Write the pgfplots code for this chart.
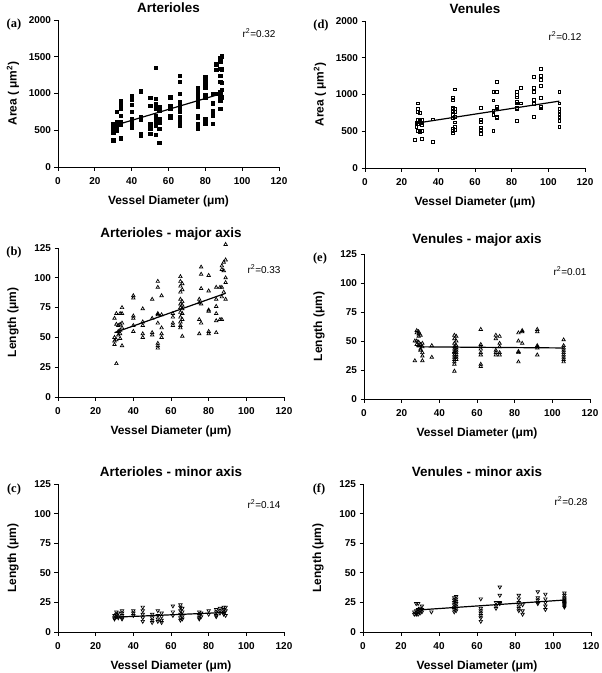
\documentclass[border=0pt]{standalone}
\usepackage{fontspec}
\setmainfont{Liberation Sans}
\newfontfamily\panelfont{Liberation Serif}
\usepackage{pgfplots}
\pgfplotsset{compat=1.18}

\pgfplotsset{
  panel/.style={
    scale only axis,
    axis lines=left,
    axis line style={-, line width=0.8bp},
    xmin=0, xmax=120, xtick={0,20,...,120},
    tick align=outside,
    major tick length=3.5bp,
    tick style={line width=0.8bp, black},
    scaled ticks=false,
    /pgf/number format/1000 sep={},
    /pgf/number format/assume math mode=true,
    ticklabel style={font=\bfseries\fontsize{10}{11}\selectfont},
    xticklabel style={yshift=-3.5bp},
    xlabel style={font=\bfseries\fontsize{12}{13}\selectfont,
      at={([yshift=-34bp]rel axis cs:0.5,0)}, anchor=center},
    ylabel style={font=\bfseries\fontsize{12}{13}\selectfont,
      at={([xshift=-45bp]rel axis cs:0,0.5)}, anchor=center},
    title style={font=\bfseries\fontsize{13.5}{15}\selectfont, yshift=-2bp},
    xlabel={Vessel Diameter (μm)},
    clip=false,
  },
  fit/.style={black, line width=1.2bp},
  sq/.style={only marks, mark=square*, mark size=1.7bp, mark options={black, fill=black}},
  osq/.style={only marks, mark=square, mark size=1.4bp, mark options={black, line width=0.8bp}},
  tri/.style={only marks, mark=triangle, mark size=2bp, mark options={black, line width=0.7bp}},
  dtri/.style={only marks, mark=triangle, mark size=2bp, mark options={black, line width=0.7bp, rotate=180}},
}

\newcommand{\plabel}[1]{\node[font=\panelfont\bfseries\fontsize{12.5}{14}\selectfont] at (rel axis cs:0,1) [xshift=-44bp, yshift=-5bp] {#1};}
\newcommand{\rsq}[2]{\node[anchor=east, font=\fontsize{10}{11}\selectfont] at (rel axis cs:1,1) [yshift=-#2] {r\textsuperscript{2}=#1};}

\begin{document}
\begin{tikzpicture}
\useasboundingbox (0,0) rectangle (602bp,-673bp);

% (a) Arterioles - area
\begin{axis}[panel, at={(58bp,-167bp)}, anchor=south west, width=221bp, height=147bp,
  ymin=0, ymax=2000, ytick={0,500,...,2000},
  title={Arterioles}, ylabel={Area ( μm\textsuperscript{2})}]
\addplot[sq] coordinates {
(30,360)(30,370)(30,470)(30,550)(30,520)(30,580)
(32,750)(32,600)(32,560)(32,500)(32,540)(32,590)(32,610)
(34,900)(34,850)(34,800)(34,700)(34,620)(34,580)(34,400)(34,390)
(40,970)(40,920)(40,850)(40,750)(40,650)(40,630)(40,600)(40,540)
(45,1030)(45,680)(45,650)(45,450)(45,430)
(50,940)(50,830)(50,580)(50,520)(50,450)
(53,1350)(53,930)(53,860)(53,800)(53,700)(53,640)(53,600)(53,560)(53,440)
(55,820)(55,770)(55,650)(55,600)(55,520)(55,330)
(61,960)(61,950)(61,830)(61,800)(61,700)(61,680)
(66,1240)(66,1160)(66,1000)(66,880)(66,860)(66,800)(66,780)(66,750)(66,680)(66,650)(66,620)(66,600)(66,580)(66,560)
(76,1070)(76,1040)(76,1000)(76,960)(76,900)(76,870)(76,820)(76,700)(76,680)(76,590)(76,570)(76,530)
(80,1230)(80,1180)(80,1140)(80,1080)(80,980)(80,940)(80,650)(80,590)
(84,1000)(84,870)(84,760)(84,720)(84,700)(84,590)
(86,1400)(86,1320)(86,1000)
(88,1480)(88,1430)(88,1340)(88,1240)(88,1160)(88,1020)(88,960)(88,900)(88,790)
(89,1510)(89,1330)(89,1150)(89,1050)(89,950)
};
\addplot[fit] coordinates {(30,560) (89,1000)};
\plabel{(a)}
\rsq{0.32}{13bp}
\end{axis}

% (d) Venules - area
\begin{axis}[panel, at={(365bp,-168bp)}, anchor=south west, width=220bp, height=147bp,
  ymin=0, ymax=2000, ytick={0,500,...,2000},
  title={Venules}, ylabel={Area ( μm\textsuperscript{2})}]
\addplot[osq] coordinates {
(27,380)
(28,600)(28,620)(28,560)
(29,880)(29,800)(29,760)(29,650)(29,600)(29,510)
(30,750)(30,640)(30,620)(30,500)(30,490)
(31,650)(31,620)(31,580)(31,500)(31,400)
(37,660)(37,360)
(48,950)(48,930)(48,820)(48,800)(48,780)(48,760)(48,720)(48,680)(48,540)(48,500)(48,480)
(49,1070)(49,800)(49,760)(49,700)(49,620)(49,560)(49,520)
(63,820)(63,660)(63,620)(63,550)(63,520)(63,460)
(70,1030)(70,920)(70,780)(70,720)(70,510)
(72,1170)(72,1030)(72,830)(72,810)(72,700)(72,680)
(83,1030)(83,1000)(83,960)(83,900)(83,880)(83,820)(83,800)(83,640)
(85,1090)(85,880)
(92,1240)(92,1090)(92,1040)(92,930)(92,870)(92,700)
(96,1350)(96,1250)(96,1200)(96,1120)(96,950)(96,830)(96,810)
(106,1030)(106,880)(106,800)(106,770)(106,730)(106,700)(106,680)(106,640)(106,560)
};
\addplot[fit] coordinates {(28,610) (106,910)};
\plabel{(d)}
\rsq{0.12}{15bp}
\end{axis}

% (b) Arterioles - major axis
\begin{axis}[panel, at={(58bp,-397bp)}, anchor=south west, width=226bp, height=149bp,
  ymin=0, ymax=125, ytick={0,25,...,125},
  title={Arterioles - major axis}, ylabel={Length (μm)}]
\addplot[tri] coordinates {
(30,66)(30,50)(30,47)(30,44)
(31,70)(31,61)(31,48)(31,28)
(32,60)(32,55)(32,52)
(33,70)(33,61)(33,56)(33,53)(33,49)
(34,75)(34,70)(34,62)(34,58)(34,43)
(40,85)(40,83)(40,68)(40,66)(40,60)(40,55)
(45,74)(45,63)(45,60)(45,53)(45,50)
(50,82)(50,66)(50,54)(50,52)
(53,97)(53,92)(53,70)(53,69)(53,62)(53,45)(53,43)(53,41)
(55,85)(55,69)(55,58)(55,53)(55,50)
(61,70)(61,67)(61,62)(61,60)
(65,101)(65,97)(65,93)(65,88)(65,82)(65,78)(65,75)(65,71)(65,67)(65,63)(65,60)(65,58)
(66,95)(66,90)(66,80)(66,77)(66,74)(66,70)(66,65)(66,51)
(75,82)(75,79)(75,65)(75,53)
(76,109)(76,103)(76,91)(76,78)(76,62)
(80,102)(80,89)(80,73)(80,72)(80,55)(80,53)
(84,92)(84,82)(84,76)(84,70)(84,64)(84,54)
(86,92)(86,65)
(87,110)(87,107)(87,92)(87,84)(87,65)
(88,113)(88,106)(88,88)
(89,128)(89,115)(89,100)(89,96)(89,82)
};
\addplot[fit] coordinates {(30,54) (89,87)};
\plabel{(b)}
\rsq{0.33}{21bp}
\end{axis}

% (e) Venules - major axis
\begin{axis}[panel, at={(364bp,-399bp)}, anchor=south west, width=226bp, height=145bp,
  ymin=0, ymax=125, ytick={0,25,...,125},
  title={Venules - major axis}, ylabel={Length (μm)}]
\addplot[tri] coordinates {
(27,50)(27,33)
(28,59)(28,57)(28,50)(28,47)
(29,58)(29,56)(29,54)(29,49)(29,46)
(30,55)(30,47)(30,43)(30,42)
(31,48)(31,45)(31,40)(31,37)(31,33)
(36,46)(36,36)
(48,55)(48,52)(48,48)(48,45)(48,43)(48,41)(48,40)(48,38)(48,36)(48,34)(48,32)(48,30)(48,24)
(49,54)(49,50)(49,46)(49,44)(49,42)(49,40)(49,38)(49,36)(49,34)
(62,60)(62,47)(62,45)(62,43)(62,40)(62,38)(62,30)(62,28)
(70,55)(70,52)(70,42)(70,40)(70,38)
(72,54)(72,48)(72,45)(72,40)(72,38)
(82,57)(82,50)(82,41)(82,40)(82,32)
(84,59)(84,58)(84,48)
(92,60)(92,58)(92,46)(92,45)(92,44)(92,38)
(106,51)(106,46)(106,44)(106,42)(106,40)(106,38)(106,36)(106,34)(106,32)
};
\addplot[fit] coordinates {(28,45) (106,44)};
\plabel{(e)}
\rsq{0.01}{17bp}
\end{axis}

% (c) Arterioles - minor axis
\begin{axis}[panel, at={(58bp,-632bp)}, anchor=south west, width=226bp, height=148bp,
  ymin=0, ymax=125, ytick={0,25,...,125},
  title={Arterioles - minor axis}, ylabel={Length (μm)}]
\addplot[dtri] coordinates {
(30,14)(30,12)(30,11)
(31,17)(31,15)(31,13)
(32,16)(32,13)(32,12)
(34,18)(34,16)(34,14)(34,12)(34,11)
(40,18)(40,16)(40,14)
(45,21)(45,18)(45,15)(45,12)(45,9)
(50,15)(50,12)(50,10)(50,8)
(53,18)(53,14)(53,11)(53,9)
(55,16)(55,13)(55,10)(55,8)
(61,22)(61,17)(61,14)
(65,23)(65,21)(65,18)(65,15)(65,12)(65,10)
(66,20)(66,17)(66,13)(66,11)
(75,17)(75,14)(75,12)(75,11)
(76,16)(76,13)
(80,18)(80,15)
(84,19)(84,17)(84,14)(84,13)
(86,20)(86,18)(86,16)
(88,21)(88,19)(88,17)(88,15)
(89,21)(89,18)(89,14)
};
\addplot[fit] coordinates {(30,12.5) (89,16.5)};
\plabel{(c)}
\rsq{0.14}{20bp}
\end{axis}

% (f) Venules - minor axis
\begin{axis}[panel, at={(363bp,-632bp)}, anchor=south west, width=228bp, height=148bp,
  ymin=0, ymax=125, ytick={0,25,...,125},
  title={Venules - minor axis}, ylabel={Length (μm)}]
\addplot[dtri] coordinates {
(27,17)(27,15)
(28,24)(28,18)(28,16)(28,15)
(29,24)(29,19)(29,17)(29,15)
(30,20)(30,18)(30,16)
(31,22)(31,19)(31,17)
(36,17)
(48,29)(48,27)(48,25)(48,23)(48,21)(48,19)(48,17)
(49,30)(49,28)(49,26)(49,24)(49,22)(49,20)(49,18)
(62,28)(62,20)(62,18)(62,16)(62,14)(62,12)(62,9)
(70,25)(70,22)(70,20)
(72,38)(72,31)(72,25)(72,24)
(82,31)(82,28)(82,25)(82,22)(82,20)(82,18)
(84,23)(84,18)(84,15)
(92,34)(92,29)(92,27)(92,25)(92,24)
(96,32)(96,28)(96,25)(96,22)(96,19)
(106,33)(106,31)(106,29)(106,28)(106,27)(106,26)(106,25)(106,24)(106,23)(106,22)(106,21)
};
\addplot[fit] coordinates {(28,18.5) (106,27)};
\plabel{(f)}
\rsq{0.28}{17bp}
\end{axis}
\end{tikzpicture}
\end{document}
